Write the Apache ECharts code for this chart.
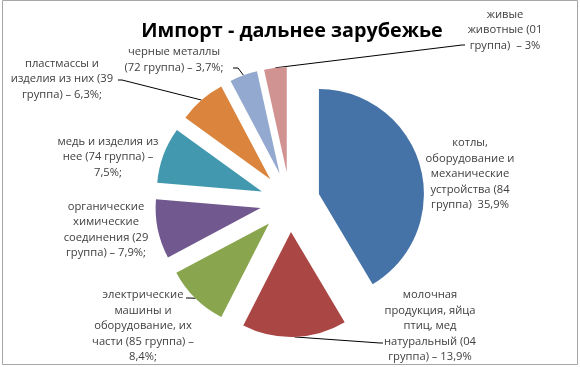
<!DOCTYPE html>
<html><head><meta charset="utf-8">
<script src="https://cdn.jsdelivr.net/npm/echarts@6/dist/echarts.min.js"></script>
<style>html,body{margin:0;padding:0;background:#fff}#c{width:580px;height:367px}</style>
</head><body><div id="c"></div>
<script>
const chartTitle = 'Импорт - дальнее зарубежье';
const categories = [
  'котлы, оборудование и механические устройства (84 группа)',
  'молочная продукция, яйца птиц, мед натуральный (04 группа)',
  'электрические машины и оборудование, их части (85 группа)',
  'органические химические соединения (29 группа)',
  'медь и изделия из нее (74 группа)',
  'пластмассы и изделия из них (39 группа)',
  'черные металлы (72 группа)',
  'живые животные (01 группа)'
];
const labelTexts = [
  'котлы,\nоборудование и\nмеханические\nустройства (84\nгруппа)  35,9%',
  'молочная\nпродукция, яйца\nптиц, мед\nнатуральный (04\nгруппа) – 13,9%',
  'электрические\nмашины и\nоборудование, их\nчасти (85 группа) –\n8,4%;',
  'органические\nхимические\nсоединения (29\nгруппа) – 7,9%;',
  'медь и изделия из\nнее (74 группа) –\n7,5%;',
  'пластмассы и\nизделия из них (39\nгруппа) – 6,3%;',
  'черные металлы\n(72 группа) – 3,7%;',
  'живые\nживотные (01\nгруппа)  – 3%'
];
const values = [35.9, 13.9, 8.4, 7.9, 7.5, 6.3, 3.7, 3.0];
const colors = ['#4572A7', '#AA4643', '#89A54E', '#71588F', '#4198AF', '#DB843D', '#93A9CF', '#D19392'];

// layout constants
const CX = 290, CY = 202, R = 105, OFFSET = 30;
const labelPos = [[470,174],[430,326],[143,326],[106,230],[108,157],[62,79],[174,60],[505,30]];
const leaderPts = [null, [[380,343],[383,343]], [[190,298],[186,298]], null, null, [[122,80],[118,80]], [[238,68],[233,68]], [[462,45],[465,45]]];

const total = values.reduce((a, b) => a + b, 0);
function sliceEdgePoint(i) {
  let before = 0;
  for (let k = 0; k < i; k++) before += values[k];
  const mid = (before + values[i] / 2) / total * 2 * Math.PI;
  const d = R + OFFSET;
  return [CX + d * Math.sin(mid), CY - d * Math.cos(mid)];
}

const font = 'Open Sans';
const graphics = [{
  type: 'rect', shape: {x: 2.5, y: 0.5, width: 575, height: 364},
  style: {fill: 'none', stroke: '#a6a6a6', lineWidth: 1}, silent: true, z: 100
}];
labelTexts.forEach((t, i) => {
  graphics.push({
    type: 'text', x: labelPos[i][0], y: labelPos[i][1], silent: true,
    style: {text: t, align: 'center', verticalAlign: 'middle', fontFamily: font, fontSize: 11.2, lineHeight: 15.5, fill: '#404040'}
  });
  if (leaderPts[i]) {
    graphics.push({
      type: 'polyline', silent: true,
      shape: {points: [sliceEdgePoint(i), leaderPts[i][0], leaderPts[i][1]]},
      style: {stroke: '#000', lineWidth: 1, fill: 'none'}
    });
  }
});

const chart = echarts.init(document.getElementById('c'), null, {renderer: 'canvas'});
const data = values.map((v, i) => ({
  value: v,
  name: categories[i],
  selected: true,
  itemStyle: {color: colors[i]}
}));
chart.setOption({
  animation: false,
  backgroundColor: '#fff',
  title: {
    text: chartTitle,
    left: 287, top: 16, textAlign: 'center',
    textStyle: {fontFamily: font, fontWeight: 'bold', fontSize: 19.8, color: '#000'}
  },
  graphic: graphics,
  series: [{
    type: 'pie',
    center: [CX, CY],
    radius: R,
    startAngle: 90,
    clockwise: true,
    selectedMode: 'multiple',
    selectedOffset: OFFSET,
    emphasis: {disabled: true},
    data: data,
    label: {show: false},
    labelLine: {show: false}
  }]
});
</script>
</body></html>
